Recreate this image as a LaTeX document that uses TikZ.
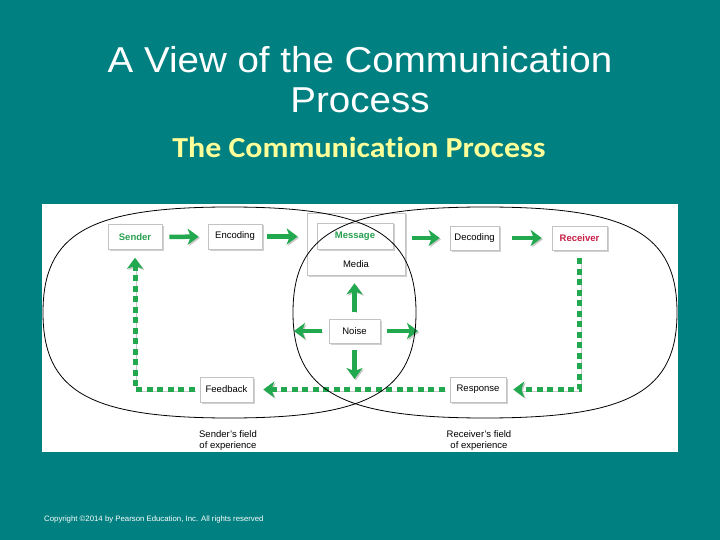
\documentclass[tikz,border=0pt]{standalone}
\usepackage{fontspec}
\setmainfont{Liberation Sans}
\newfontfamily\calibri[Ligatures=NoCommon]{Carlito}
\usetikzlibrary{arrows.meta,shadows}
\definecolor{teal0}{RGB}{0,128,128}
\definecolor{ggreen}{RGB}{34,168,78}
\definecolor{txtgreen}{RGB}{40,160,80}
\definecolor{rred}{RGB}{200,30,70}
\definecolor{subyellow}{RGB}{255,255,153}
\definecolor{boxgray}{RGB}{195,195,195}
\definecolor{shade}{RGB}{200,200,200}
\tikzset{
  box/.style={draw=boxgray, line width=0.6pt, fill=white, minimum height=25pt, inner sep=0pt,
    font=\fontsize{9.5}{11}\selectfont,
    drop shadow={shadow xshift=1.5pt, shadow yshift=-1.5pt, opacity=0.3, fill=black!60}},
  arrowshadow/.style={preaction={draw=shade, transform canvas={xshift=1.3pt,yshift=-1.3pt}}},
  garrow/.style={draw=ggreen, line width=4.5pt, -{Stealth[length=11pt,width=16pt,inset=3pt]}, arrowshadow},
  darrow/.style={draw=ggreen, line width=5pt, dash pattern=on 6pt off 4.5pt,
    -{Stealth[length=11pt,width=16pt,inset=3pt]}, arrowshadow},
  field/.style={draw=black, line width=0.8pt},
  flabel/.style={align=center, inner sep=0pt, font=\fontsize{9.5}{11}\selectfont}
}
\begin{document}
\begin{tikzpicture}[x=1pt,y=-1pt]
\useasboundingbox (0,0) rectangle (720,540);
\fill[teal0] (0,0) rectangle (720,540);
% titles
\node[anchor=base, text=white, inner sep=0pt, font=\fontsize{36}{40}\selectfont] (t1) at (360,73) {\scalebox{1.07}[1]{A View of the Communication}};
\node[anchor=base, text=white, inner sep=0pt, font=\fontsize{36}{40}\selectfont] (t2) at (360,113) {\scalebox{1.07}[1]{Process}};
\node[anchor=base, text=subyellow, inner sep=0pt, font=\calibri\bfseries\fontsize{29}{32}\selectfont] (st) at (359,158) {\scalebox{1.1}[1]{The Communication Process}};
% panel
\fill[white] (42,204) rectangle (678,452);
% boxes
\node[box, minimum width=98pt, minimum height=62pt] (media) at (356,244) {};
\node[box, minimum width=76pt, minimum height=26pt, text=txtgreen, font=\fontsize{9.5}{11}\selectfont\bfseries] (message) at (355,236) {Message};
\node[inner sep=0pt, font=\fontsize{9.5}{11}\selectfont] (medialabel) at (356,264) {Media};
\node[box, minimum width=54pt, text=txtgreen, font=\fontsize{9.5}{11}\selectfont\bfseries] (sender) at (135,237) {Sender};
\node[box, minimum width=54pt] (encoding) at (235,236.5) {Encoding};
\node[box, minimum width=49pt, minimum height=24pt] (decoding) at (474.5,238) {Decoding};
\node[box, minimum width=55pt, minimum height=24pt, text=rred, font=\fontsize{9.5}{11}\selectfont\bfseries] (receiver) at (579.5,238) {Receiver};
\node[box, minimum width=51pt, minimum height=24pt] (noise) at (354.5,331) {Noise};
\node[box, minimum width=53pt] (feedback) at (226.5,389.5) {Feedback};
\node[box, minimum width=56pt] (response) at (478,389.5) {Response};
% free ends
\coordinate (nl) at (294,331);
\coordinate (nr) at (418,331);
\coordinate (nd) at (354.5,379);
% solid arrows
\draw[garrow, shorten <=7pt, shorten >=9pt] (sender) -- (encoding);
\draw[garrow, shorten <=5pt, shorten >=9pt] (encoding.east) -- (encoding.east -| media.west);
\draw[garrow, shorten <=7pt, shorten >=10pt] (decoding.west -| media.east) -- (decoding.west);
\draw[garrow, shorten <=13pt, shorten >=10pt] (decoding) -- (receiver);
\draw[garrow, shorten <=7pt, shorten >=8pt] (noise.north) -- (noise.north |- media.south);
\draw[garrow, shorten <=7pt] (noise.west) -- (nl);
\draw[garrow, shorten <=7pt] (noise.east) -- (nr);
\draw[garrow, shorten <=7pt] (noise.south) -- (nd);
% dashed arrows
\draw[darrow, shorten <=8pt, shorten >=7pt] (receiver.south) |- (response.east);
\draw[darrow, shorten <=5pt, shorten >=10pt] (response.west) -- (feedback.east);
\draw[darrow, shorten <=5pt, shorten >=8pt] (feedback.west) -| (sender.south);
% fields of experience
\draw[field] (416,312.5) .. controls (416,233.4) and (369.4,207) .. (229.5,207)
  .. controls (89.6,207) and (43,233.4) .. (43,312.5)
  .. controls (43,391.6) and (89.6,418) .. (229.5,418)
  .. controls (369.4,418) and (416,391.6) .. (416,312.5) -- cycle;
\draw[field] (677,312.5) .. controls (677,233.4) and (629,207) .. (485,207)
  .. controls (341,207) and (293,233.4) .. (293,312.5)
  .. controls (293,391.6) and (341,418) .. (485,418)
  .. controls (629,418) and (677,391.6) .. (677,312.5) -- cycle;
\node[flabel] (sfield) at (228,441) {Sender's field\\of experience};
\node[flabel] (rfield) at (479,441) {Receiver's field\\of experience};
% copyright
\node[anchor=base west, inner sep=0pt, text=white, font=\fontsize{7.8}{9}\selectfont] (copy) at (44,521) {Copyright ©2014 by Pearson Education, Inc. All rights reserved};
\end{tikzpicture}
\end{document}
